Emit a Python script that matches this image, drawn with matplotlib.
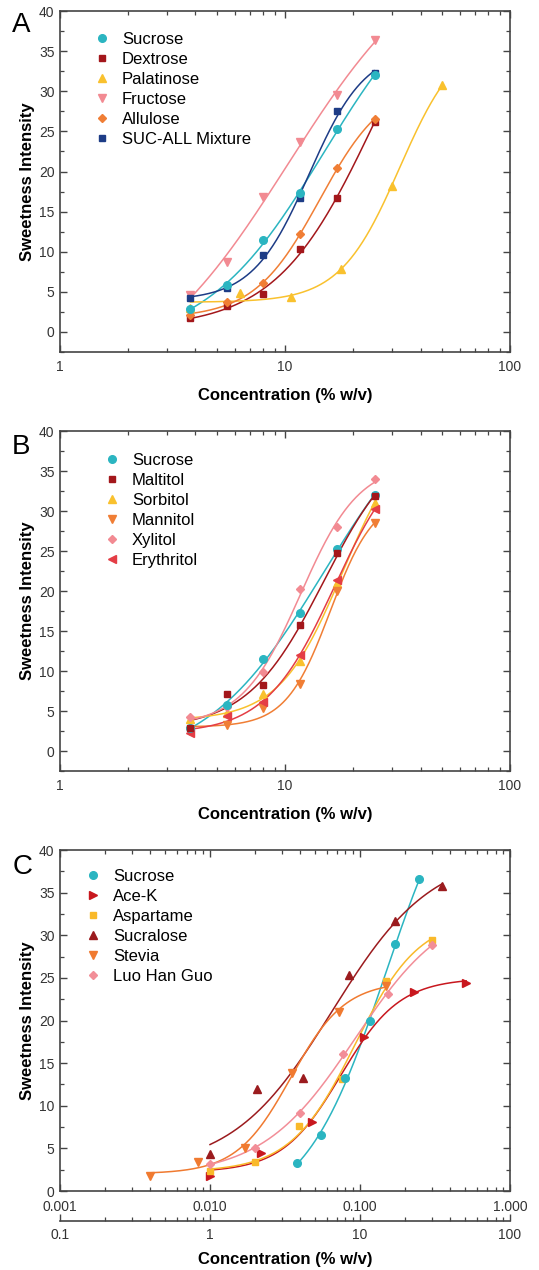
import numpy as np
import matplotlib
matplotlib.use("Agg")
import matplotlib.pyplot as plt
from matplotlib.ticker import FixedLocator, LogLocator, MultipleLocator, FuncFormatter, NullFormatter

plt.rcParams['font.family'] = ['Liberation Sans', 'DejaVu Sans']

# ---- panel A: sugars ----
conc_a = [3.8, 5.5, 8.0, 11.7, 17.1, 25.0]
conc_palatinose = [3.8, 6.3, 10.6, 17.7, 29.8, 50.0]
sucrose_a = [2.9, 5.8, 11.5, 17.3, 25.3, 32.0]
dextrose = [1.7, 3.2, 4.7, 10.4, 16.7, 26.2]
palatinose = [3.0, 4.8, 4.4, 7.8, 18.2, 30.8]
fructose = [4.6, 8.7, 16.8, 23.7, 29.5, 36.4]
allulose = [2.1, 3.7, 6.1, 12.2, 20.4, 26.6]
suc_all = [4.2, 5.5, 9.6, 16.7, 27.5, 32.3]

# ---- panel B: polyols ----
conc_b = [3.8, 5.5, 8.0, 11.7, 17.1, 25.0]
sucrose_b = [2.9, 5.8, 11.5, 17.3, 25.3, 32.0]
maltitol = [2.9, 7.1, 8.2, 15.7, 24.7, 31.9]
sorbitol = [4.0, 4.7, 7.1, 11.2, 21.0, 31.0]
mannitol = [2.5, 3.2, 5.4, 8.4, 20.0, 28.5]
xylitol = [4.2, 5.5, 9.9, 20.2, 28.0, 34.0]
erythritol = [2.3, 4.4, 6.1, 12.0, 21.4, 30.2]

# ---- panel C: high intensity sweeteners (sucrose on the lower % scale) ----
conc_sucrose_c = [3.8, 5.5, 8.0, 11.7, 17.2, 24.9]
sucrose_c = [3.3, 6.6, 13.2, 19.9, 29.0, 36.6]
conc_acek = [0.010, 0.022, 0.048, 0.107, 0.230, 0.51]
acek = [1.8, 4.5, 8.1, 18.1, 23.4, 24.4]
conc_aspartame = [0.010, 0.020, 0.039, 0.0755, 0.150, 0.302]
aspartame = [2.35, 3.4, 7.6, 13.1, 24.6, 29.4]
conc_sucralose = [0.010, 0.0205, 0.0415, 0.085, 0.172, 0.352]
sucralose = [4.3, 12.0, 13.2, 25.3, 31.7, 35.8]
conc_stevia = [0.004, 0.0083, 0.0171, 0.035, 0.0728, 0.150]
stevia = [1.75, 3.4, 5.0, 13.9, 21.0, 24.1]
conc_lhg = [0.010, 0.020, 0.0395, 0.0775, 0.153, 0.302]
luo_han_guo = [3.2, 5.0, 9.2, 16.1, 23.1, 28.9]

CYAN = '#2BB5C1'
DARKRED = '#A3171B'
YELLOW = '#F9C12E'
PINK = '#F28A92'
ORANGE = '#F07E35'
NAVY = '#1D3C86'
RED = '#E43D45'


def fit_curve(x, y, n=200):
    # 4-parameter logistic in log10(x), simple grid search + linear lstsq
    lx = np.log10(np.asarray(x, float))
    y = np.asarray(y, float)
    cs = np.linspace(lx.min() - 1, lx.max() + 1, 300)
    hs = np.linspace(0.3, 6, 120)
    C, H = np.meshgrid(cs, hs)
    with np.errstate(all='ignore'):
        S = 1 / (1 + 10 ** ((C[..., None] - lx) * H[..., None]))
        Sm = S.mean(-1, keepdims=True)
        ym = y.mean()
        b = ((S - Sm) * (y - ym)).sum(-1) / ((S - Sm) ** 2).sum(-1)
        a = ym - b * Sm[..., 0]
        res = ((a[..., None] + b[..., None] * S - y) ** 2).sum(-1)
    i = np.unravel_index(np.nanargmin(res), res.shape)
    xs = np.logspace(lx.min(), lx.max(), n)
    s = 1 / (1 + 10 ** ((C[i] - np.log10(xs)) * H[i]))
    return xs, a[i] + b[i] * s


def draw_series(ax, series):
    for label, x, y, color, marker, ms, z in series:
        xs, ys = fit_curve(x, y)
        ax.plot(xs, ys, color=color, lw=1.1, zorder=2)
        ax.plot(x, y, ls='none', marker=marker, color=color, ms=ms,
                label=label, zorder=z)


def style_axes(ax):
    for sp in ax.spines.values():
        sp.set_color('#444444')
        sp.set_linewidth(1.2)
    ax.tick_params(which='both', direction='in', top=True, right=True,
                   colors='#444444', labelcolor='#333333', labelsize=10)
    ax.tick_params(which='major', length=5, width=1.0)
    ax.tick_params(which='minor', length=3, width=0.9)
    ax.tick_params(axis='x', pad=6)
    ax.tick_params(axis='y', pad=4)
    ax.yaxis.set_major_locator(MultipleLocator(5))
    ax.yaxis.set_minor_locator(MultipleLocator(2.5))
    ax.set_ylabel('Sweetness Intensity', fontsize=12, fontweight='bold',
                  labelpad=3)


fig = plt.figure(figsize=(5.39, 12.70), dpi=100)
axA = fig.add_axes([0.1113, 0.7228, 0.835, 0.2685])
axB = fig.add_axes([0.1113, 0.3929, 0.835, 0.2677])
axC = fig.add_axes([0.1113, 0.0622, 0.835, 0.2685])

# panel A
draw_series(axA, [
    ('Sucrose', conc_a, sucrose_a, CYAN, 'o', 5.5, 5),
    ('Dextrose', conc_a, dextrose, DARKRED, 's', 5, 3),
    ('Palatinose', conc_palatinose, palatinose, YELLOW, '^', 5.5, 3),
    ('Fructose', conc_a, fructose, PINK, 'v', 5.5, 3),
    ('Allulose', conc_a, allulose, ORANGE, 'D', 4.5, 3),
    ('SUC-ALL Mixture', conc_a, suc_all, NAVY, 's', 5, 4),
])
axA.set_xscale('log')
axA.set_xlim(1, 100)
axA.set_ylim(-2.5, 40)
axA.xaxis.set_major_formatter(FuncFormatter(lambda v, p: '%g' % v))
axA.xaxis.set_minor_formatter(NullFormatter())
style_axes(axA)
axA.set_xlabel('Concentration (% w/v)', fontsize=12, fontweight='bold',
               labelpad=10)
axA.legend(loc='upper left', bbox_to_anchor=(0.06, 0.958), frameon=False,
           fontsize=12, handlelength=1, handletextpad=0.7, labelspacing=0.3,
           borderaxespad=0)

# panel B
draw_series(axB, [
    ('Sucrose', conc_b, sucrose_b, CYAN, 'o', 5.5, 4),
    ('Maltitol', conc_b, maltitol, DARKRED, 's', 5, 4),
    ('Sorbitol', conc_b, sorbitol, YELLOW, '^', 5.5, 3),
    ('Mannitol', conc_b, mannitol, ORANGE, 'v', 5.5, 3),
    ('Xylitol', conc_b, xylitol, PINK, 'D', 4.5, 3),
    ('Erythritol', conc_b, erythritol, RED, '<', 5.5, 3),
])
axB.set_xscale('log')
axB.set_xlim(1, 100)
axB.set_ylim(-2.5, 40)
axB.xaxis.set_major_formatter(FuncFormatter(lambda v, p: '%g' % v))
axB.xaxis.set_minor_formatter(NullFormatter())
style_axes(axB)
axB.set_xlabel('Concentration (% w/v)', fontsize=12, fontweight='bold',
               labelpad=10)
axB.legend(loc='upper left', bbox_to_anchor=(0.082, 0.955), frameon=False,
           fontsize=12, handlelength=1, handletextpad=0.7, labelspacing=0.3,
           borderaxespad=0)

# panel C
sucrose_top = list(np.array(conc_sucrose_c) / 100)
draw_series(axC, [
    ('Sucrose', sucrose_top, sucrose_c, CYAN, 'o', 5.5, 4),
    ('Ace-K', conc_acek, acek, '#C8171E', '>', 5.5, 3),
    ('Aspartame', conc_aspartame, aspartame, '#F9B92A', 's', 5, 3),
    ('Sucralose', conc_sucralose, sucralose, '#9B1B1E', '^', 5.5, 3),
    ('Stevia', conc_stevia, stevia, '#F07A30', 'v', 5.5, 3),
    ('Luo Han Guo', conc_lhg, luo_han_guo, '#F28E98', 'D', 4.5, 3),
])
axC.set_xscale('log')
axC.set_xlim(0.001, 1)
axC.set_ylim(0, 40)
axC.xaxis.set_major_formatter(FuncFormatter(lambda v, p: '%.3f' % v))
axC.xaxis.set_minor_formatter(NullFormatter())
style_axes(axC)
axC.tick_params(axis='x', pad=6.5)
sec = axC.secondary_xaxis(-0.088, functions=(lambda x: x * 100,
                                              lambda x: x / 100))
sec.spines['bottom'].set_color('#444444')
sec.spines['bottom'].set_linewidth(1.2)
sec.xaxis.set_major_locator(FixedLocator([0.1, 1, 10, 100]))
sec.xaxis.set_minor_locator(LogLocator(base=10, subs=np.arange(2, 10)))
sec.xaxis.set_major_formatter(FuncFormatter(lambda v, p: '%g' % v))
sec.xaxis.set_minor_formatter(NullFormatter())
sec.tick_params(which='both', direction='in', colors='#444444',
                labelcolor='#333333', labelsize=10, pad=5)
sec.tick_params(which='major', length=5, width=1.0)
sec.tick_params(which='minor', length=3, width=0.9)
sec.set_xlabel('Concentration (% w/v)', fontsize=12, fontweight='bold',
               labelpad=7)
axC.legend(loc='upper left', bbox_to_anchor=(0.04, 0.964), frameon=False,
           fontsize=12, handlelength=1, handletextpad=0.7, labelspacing=0.3,
           borderaxespad=0)

fig.text(0.022, 0.980, 'A', fontsize=20, va='center', ha='left')
fig.text(0.022, 0.648, 'B', fontsize=20, va='center', ha='left')
fig.text(0.024, 0.317, 'C', fontsize=20, va='center', ha='left')

fig.savefig('out.png', dpi=100)
